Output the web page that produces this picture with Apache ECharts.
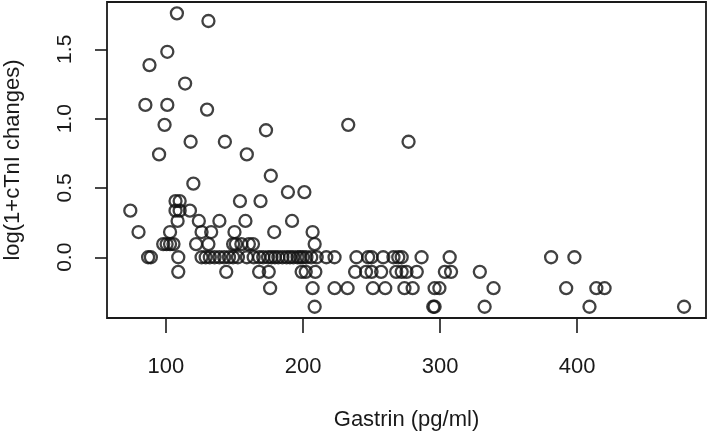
<!DOCTYPE html>
<html>
<head>
<meta charset="utf-8">
<script src="https://cdn.jsdelivr.net/npm/echarts@6/dist/echarts.min.js"></script>
<style>
  html, body { margin: 0; padding: 0; background: #ffffff; }
  #chart { width: 709px; height: 432px; }
</style>
</head>
<body>
<div id="chart"></div>
<script>
// log(1 + cTnI changes) levels (one per row of points) and the gastrin values at each level
const levels = [1.759, 1.704, 1.482, 1.386, 1.253, 1.099, 1.065, 0.955, 0.916, 0.833, 0.742, 0.588, 0.531, 0.470, 0.405, 0.336, 0.262, 0.182, 0.095, 0, -0.105, -0.223, -0.357];
const gastrinRows = [
  [108],
  [131],
  [101],
  [88],
  [114],
  [85, 101],
  [130],
  [99, 233],
  [173],
  [118, 143, 277],
  [95, 159],
  [176.5],
  [120],
  [189, 201],
  [107, 110, 154, 169],
  [74, 107, 110, 117.5],
  [108.5, 124, 139, 158, 192],
  [80, 103, 126, 133, 150, 179, 207],
  [98, 100.5, 103, 105.5, 122, 131, 149, 151, 155, 160.5, 163.5, 208.5],
  [87, 89, 109, 126, 129, 132, 135.5, 139, 142.5, 146, 149, 152.5, 159, 164, 168, 171, 174.5, 177, 179.5, 182, 185, 188, 190.5, 193, 196, 198, 200, 202.5, 206, 210, 217, 223, 239, 247.5, 250, 258.5, 266, 269.5, 272, 286.5, 307, 381, 398],
  [109, 144, 168, 175, 199, 202, 209, 238, 246, 250, 257, 268, 272, 275.5, 283, 303.5, 308, 329],
  [176, 207, 223, 232.5, 251, 260, 274, 280, 296, 299.5, 339, 392, 414, 420],
  [208.5, 295, 296, 332.5, 409, 478]
];
const xTicks = [100, 200, 300, 400];
const yTicks = [0, 0.5, 1.0, 1.5];
const xTitle = 'Gastrin (pg/ml)';
const yTitle = 'log(1+cTnI changes)';

const points = [];
levels.forEach((lv, i) => gastrinRows[i].forEach(g => points.push([g, lv])));

const FONT = '"Liberation Sans", Arial, Helvetica, sans-serif';
const INK = '#1a1a1a';

const chart = echarts.init(document.getElementById('chart'), null, { renderer: 'canvas' });
chart.setOption({
  animation: false,
  backgroundColor: '#ffffff',
  grid: {
    left: 107, right: 3, top: 2, bottom: 114,
    containLabel: false, outerBoundsMode: 'none',
    show: true, borderColor: INK, borderWidth: 1.8, backgroundColor: 'transparent'
  },
  xAxis: {
    type: 'value', min: 57, max: 494,
    axisLine: { show: false, onZero: false },
    splitLine: { show: false },
    axisTick: { show: true, customValues: xTicks, length: 15, lineStyle: { color: INK, width: 1.6 } },
    axisLabel: { customValues: xTicks, fontSize: 22, margin: 38, color: INK, fontFamily: FONT },
    name: xTitle, nameLocation: 'middle', nameGap: 91,
    nameTextStyle: { fontSize: 22, color: INK, fontFamily: FONT }
  },
  yAxis: {
    type: 'value', min: -0.438, max: 1.841,
    axisLine: { show: false, onZero: false },
    splitLine: { show: false },
    axisTick: { show: true, customValues: yTicks, length: 12, lineStyle: { color: INK, width: 1.6 } },
    axisLabel: { customValues: yTicks, rotate: 90, fontSize: 21, margin: 31, color: INK, fontFamily: FONT,
      formatter: v => Number(v).toFixed(1) },
    name: yTitle, nameLocation: 'middle', nameGap: 83, nameRotate: 90,
    nameTextStyle: { fontSize: 22, color: INK, fontFamily: FONT }
  },
  series: [{
    type: 'scatter',
    data: points,
    symbol: 'circle',
    symbolSize: 12,
    itemStyle: { color: 'rgba(0,0,0,0)', borderColor: '#111111', borderWidth: 2.3 },
    emphasis: { disabled: true },
    silent: true
  }]
});
</script>
</body>
</html>
